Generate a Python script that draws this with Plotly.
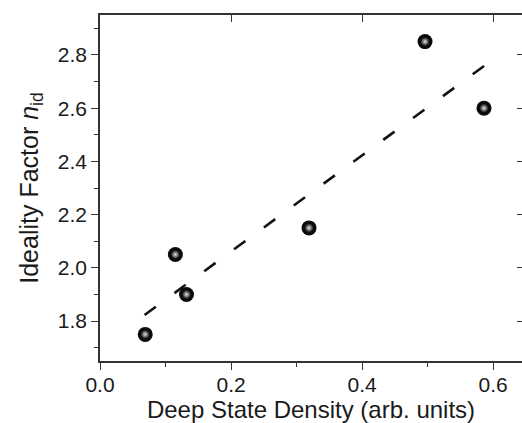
import plotly.graph_objects as go

# Data
deep_state_density = [0.069, 0.115, 0.132, 0.319, 0.496, 0.586]
ideality_factor = [1.75, 2.05, 1.90, 2.15, 2.85, 2.60]
fit_x = [0.068, 0.588]
fit_y = [1.823, 2.762]

x_range = [0, 0.644]
y_range = [1.65, 2.95]
x_ticks = [0.0, 0.2, 0.4, 0.6]
x_ticklabels = ["0.0", "0.2", "0.4", "0.6"]
y_ticks = [1.8, 2.0, 2.2, 2.4, 2.6, 2.8]
y_ticklabels = ["1.8", "2.0", "2.2", "2.4", "2.6", "2.8"]

FONT = "Liberation Sans, Arial, sans-serif"
AX = "#333333"
TXT = "#1a1a1a"

fig = go.Figure()

fig.add_trace(go.Scatter(
    x=fit_x, y=fit_y, mode="lines",
    line=dict(color="#111111", width=2.6, dash="14px,23px"),
    hoverinfo="skip", showlegend=False))

# sphere-like markers: black ball + soft light highlight in the middle
fig.add_trace(go.Scatter(
    x=deep_state_density, y=ideality_factor, mode="markers",
    marker=dict(size=15, color="#0a0a0a", line=dict(width=0)),
    showlegend=False))
fig.add_trace(go.Scatter(
    x=deep_state_density, y=ideality_factor, mode="markers",
    marker=dict(size=9, color="#0a0a0a", line=dict(width=0),
                gradient=dict(type="radial", color="#e6e6e6")),
    hoverinfo="skip", showlegend=False))

# invisible trace for mirrored (top/right) axes
fig.add_trace(go.Scatter(
    x=deep_state_density, y=ideality_factor, mode="markers",
    xaxis="x2", yaxis="y2", marker=dict(opacity=0),
    hoverinfo="skip", showlegend=False))

fig.update_layout(
    width=522, height=423,
    margin=dict(l=100, r=0, t=15, b=62),
    paper_bgcolor="white", plot_bgcolor="white",
    font=dict(family=FONT, color=TXT),
    xaxis=dict(
        range=x_range, tickvals=x_ticks, ticktext=x_ticklabels,
        showgrid=False, zeroline=False,
        showline=True, linecolor=AX, linewidth=1.5,
        ticks="outside", ticklen=7, tickwidth=1.3, tickcolor=AX,
        ticklabelstandoff=-3,
        minor=dict(dtick=0.1, tick0=0, ticks="outside", ticklen=4, tickwidth=1.2, tickcolor=AX),
        tickfont=dict(size=21, family=FONT, color=TXT),
        title=dict(text="Deep State Density (arb. units)", font=dict(size=24, family=FONT, color=TXT), standoff=9),
    ),
    yaxis=dict(
        range=y_range, tickvals=y_ticks, ticktext=y_ticklabels,
        showgrid=False, zeroline=False,
        showline=True, linecolor=AX, linewidth=1.5,
        ticks="outside", ticklen=7, tickwidth=1.3, tickcolor=AX,
        minor=dict(dtick=0.1, tick0=1.7, ticks="outside", ticklen=4, tickwidth=1.2, tickcolor=AX),
        tickfont=dict(size=21, family=FONT, color=TXT),
        title=dict(text="Ideality Factor <i>n</i><sub>id</sub>", font=dict(size=25, family=FONT, color=TXT), standoff=12),
    ),
    xaxis2=dict(
        range=x_range, overlaying="x", side="top", anchor="y",
        tickvals=x_ticks[1:], showticklabels=False,
        showgrid=False, zeroline=False,
        showline=True, linecolor=AX, linewidth=1.5,
        ticks="inside", ticklen=7, tickwidth=1.3, tickcolor=AX,
    ),
    yaxis2=dict(
        range=y_range, overlaying="y", side="right", anchor="x",
        tickvals=y_ticks, showticklabels=False,
        showgrid=False, zeroline=False, showline=False,
        ticks="inside", ticklen=5, tickwidth=1.3, tickcolor=AX,
    ),
)

fig.write_html("out.html")
